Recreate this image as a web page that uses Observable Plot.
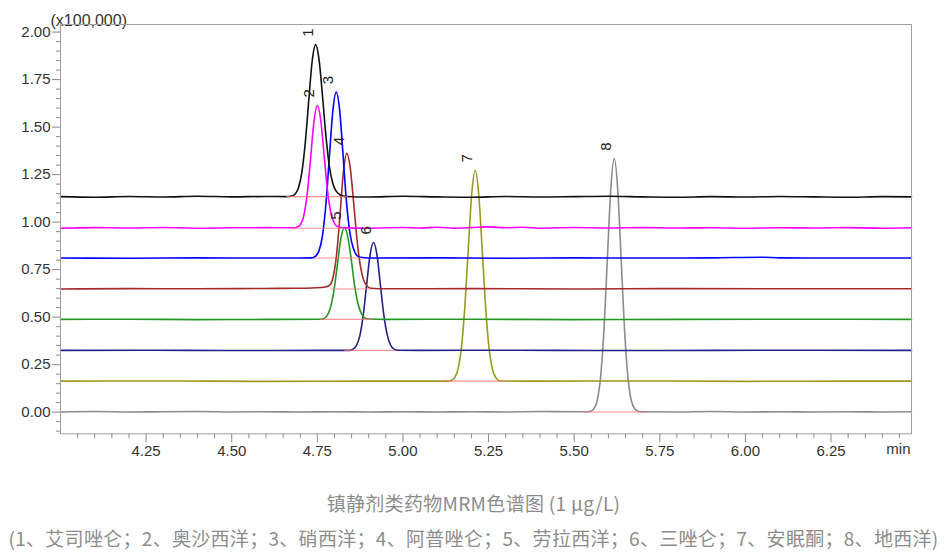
<!DOCTYPE html>
<html><head><meta charset="utf-8">
<script src="https://cdn.jsdelivr.net/npm/d3@7"></script>
<script src="https://cdn.jsdelivr.net/npm/@observablehq/plot@0.6"></script>
<style>
body{margin:0;background:#fff;width:947px;height:560px;position:relative;overflow:hidden;}
#chart{position:absolute;left:0;top:0;}
.cap{position:absolute;left:0;width:947px;text-align:center;font-family:"Noto Sans CJK SC","Noto Sans",sans-serif;color:#8c8c8c;font-size:19px;letter-spacing:0.3px;line-height:26px;white-space:nowrap;}
</style></head><body>
<div id="chart"></div>
<div class="cap" style="top:490px">镇静剂类药物MRM色谱图 (1 µg/L)</div>
<div class="cap" style="top:525px">(1、艾司唑仑；2、奥沙西洋；3、硝西洋；4、阿普唑仑；5、劳拉西洋；6、三唑仑；7、安眠酮；8、地西洋)</div>
<script>
// peak labels and trace colours
const peakIds = ["1","2","3","4","5","6","7","8"];
const peakColors = ["#111111","#ff00ff","#0000ff","#a52a2a","#229a22","#22228b","#9a9a1e","#8c8c8c"];

// tick values
const xMajorTicks = [4.25,4.50,4.75,5.00,5.25,5.50,5.75,6.00,6.25];
const yMajorTicks = [0,0.25,0.5,0.75,1.0,1.25,1.5,1.75,2.0];

// trace 1 (black)
const t1 = [4.00,4.10,4.20,4.30,4.40,4.50,4.60,4.66,4.675,4.685,4.695,4.705,4.715,4.725,4.735,4.745,4.755,4.765,4.775,4.785,4.795,4.805,4.815,4.825,4.835,4.90,5.00,5.10,5.20,5.30,5.40,5.50,5.60,5.70,5.80,5.90,6.00,6.10,6.20,6.30,6.40,6.485];
const v1 = [1.134,1.131,1.135,1.132,1.136,1.133,1.135,1.134,1.137,1.148,1.181,1.264,1.422,1.642,1.848,1.934,1.855,1.665,1.455,1.295,1.205,1.163,1.145,1.138,1.135,1.132,1.136,1.133,1.131,1.135,1.132,1.134,1.136,1.133,1.131,1.134,1.132,1.135,1.133,1.131,1.134,1.133];
// trace 2 (magenta)
const t2 = [4.00,4.10,4.20,4.30,4.40,4.50,4.60,4.68,4.69,4.70,4.71,4.72,4.73,4.74,4.75,4.76,4.77,4.78,4.79,4.80,4.81,4.82,4.90,5.00,5.05,5.10,5.15,5.20,5.25,5.30,5.35,5.40,5.50,5.60,5.70,5.80,5.90,6.00,6.10,6.20,6.30,6.40,6.485];
const v2 = [0.968,0.971,0.969,0.972,0.968,0.970,0.971,0.970,0.973,0.985,1.030,1.142,1.328,1.528,1.614,1.535,1.350,1.160,1.045,0.993,0.975,0.971,0.968,0.972,0.969,0.973,0.968,0.971,0.975,0.970,0.973,0.968,0.972,0.969,0.971,0.969,0.970,0.968,0.970,0.969,0.971,0.968,0.970];
// trace 3 (blue)
const t3 = [4.00,4.20,4.40,4.60,4.735,4.745,4.755,4.765,4.775,4.785,4.795,4.805,4.815,4.825,4.835,4.845,4.855,4.865,4.875,4.90,5.10,5.30,5.50,5.70,5.90,6.05,6.10,6.30,6.485];
const v3 = [0.811,0.810,0.812,0.811,0.812,0.821,0.850,0.929,1.094,1.340,1.581,1.684,1.592,1.356,1.108,0.945,0.862,0.826,0.815,0.811,0.812,0.810,0.812,0.811,0.812,0.815,0.812,0.811,0.811];
// trace 4 (brown)
const t4 = [4.00,4.20,4.40,4.60,4.70,4.76,4.776,4.786,4.796,4.806,4.816,4.826,4.836,4.846,4.856,4.866,4.876,4.886,4.896,4.906,4.95,5.20,5.50,5.80,6.10,6.485];
const v4 = [0.648,0.650,0.649,0.651,0.652,0.656,0.660,0.668,0.710,0.826,1.032,1.262,1.362,1.287,1.103,0.906,0.766,0.691,0.661,0.652,0.649,0.650,0.648,0.650,0.649,0.649];
// trace 5 (green)
const t5 = [4.00,4.20,4.40,4.60,4.759,4.769,4.779,4.789,4.799,4.809,4.819,4.829,4.839,4.849,4.859,4.869,4.879,4.889,4.899,4.95,5.20,5.50,5.80,6.10,6.485];
const v5 = [0.488,0.489,0.487,0.488,0.489,0.492,0.509,0.554,0.646,0.783,0.917,0.970,0.922,0.804,0.664,0.569,0.517,0.496,0.490,0.488,0.489,0.487,0.488,0.489,0.488];
// trace 6 (navy)
const t6 = [4.00,4.25,4.50,4.75,4.844,4.854,4.864,4.874,4.884,4.894,4.904,4.914,4.924,4.934,4.944,4.954,4.964,4.974,4.984,5.05,5.30,5.60,5.90,6.20,6.485];
const v6 = [0.325,0.326,0.324,0.325,0.325,0.331,0.350,0.401,0.510,0.671,0.829,0.893,0.829,0.672,0.513,0.408,0.352,0.332,0.326,0.325,0.326,0.324,0.325,0.326,0.325];
// trace 7 (olive)
const t7 = [4.00,4.30,4.60,4.90,5.131,5.141,5.151,5.161,5.171,5.181,5.191,5.201,5.211,5.221,5.231,5.241,5.251,5.261,5.271,5.281,5.291,5.40,5.70,6.00,6.30,6.485];
const v7 = [0.163,0.164,0.162,0.163,0.163,0.167,0.182,0.228,0.344,0.562,0.867,1.153,1.272,1.153,0.867,0.562,0.344,0.228,0.182,0.167,0.164,0.163,0.164,0.162,0.163,0.163];
// trace 8 (gray)
const t8 = [4.00,4.10,4.20,4.30,4.40,4.50,4.60,4.70,4.80,4.90,5.00,5.10,5.20,5.30,5.40,5.50,5.537,5.547,5.557,5.567,5.577,5.587,5.597,5.607,5.617,5.627,5.637,5.647,5.657,5.667,5.677,5.687,5.697,5.80,5.90,6.00,6.10,6.20,6.30,6.40,6.485];
const v8 = [0.001,0.003,0.001,0.002,0.003,0.001,0.002,0.001,0.002,0.001,0.002,0.001,0.002,0.001,0.003,0.002,0.002,0.005,0.017,0.060,0.182,0.435,0.810,1.177,1.334,1.177,0.810,0.435,0.182,0.060,0.017,0.005,0.002,0.001,0.003,0.001,0.002,0.001,0.002,0.001,0.002];

// integration baseline segments (start / end time)
const segStart = [4.66,4.67,4.74,4.79,4.76,4.83,5.12,5.53];
const segEnd   = [4.84,4.83,4.88,4.91,4.91,4.98,5.30,5.71];

const times = [t1,t2,t3,t4,t5,t6,t7,t8];
const vals = [v1,v2,v3,v4,v5,v6,v7,v8];

const traces = peakIds.map((id,i) => times[i].map((t,j) => ({id, t, v: vals[i][j]})));
const apexRows = traces.map(rows => d3.greatest(rows, d => d.v));
const segRows = peakIds.map((id,i) => ({id, start: segStart[i], end: segEnd[i], level: vals[i][0]}));

const yMinorTicks = d3.range(-0.10, 2.001, 0.05).map(d => +d.toFixed(2)).filter(d => !yMajorTicks.some(m => Math.abs(m-d) < 1e-6));
const xMinorTicks = d3.range(4.05, 6.48, 0.05).map(d => +d.toFixed(2)).filter(d => !xMajorTicks.some(m => Math.abs(m-d) < 1e-6));

const lineMarks = [];
for (let i = 7; i >= 0; i--) {
  lineMarks.push(Plot.line(traces[i], {x:"t", y:"v", stroke: peakColors[i], strokeWidth: 1.6, curve: "monotone-x"}));
}

const tickColor = "#8a8a8a";
const textColor = "#333";

const chart = Plot.plot({
  width: 947,
  height: 475,
  marginTop: 24,
  marginLeft: 60,
  marginRight: 36,
  marginBottom: 41.7,
  style: {fontFamily: "'Liberation Sans', Arial, sans-serif", fontSize: "15px", background: "#fff"},
  x: {domain: [4.0, 6.485]},
  y: {domain: [-0.114, 2.04]},
  marks: [
    Plot.axisY({ticks: yMinorTicks, tickSize: 4, tickFormat: () => "", color: tickColor}),
    Plot.axisY({ticks: yMajorTicks, tickSize: 8, tickFormat: () => "", color: tickColor}),
    Plot.axisY({ticks: yMajorTicks, tickSize: 0, tickPadding: 10, tickFormat: d3.format(".2f"), fontSize: 15, color: textColor, label: null}),
    Plot.axisX({ticks: xMinorTicks, tickSize: 5, tickFormat: () => "", color: tickColor}),
    Plot.axisX({ticks: xMajorTicks, tickSize: 9, tickFormat: () => "", color: tickColor}),
    Plot.axisX({ticks: xMajorTicks, tickSize: 0, tickPadding: 12, tickFormat: d3.format(".2f"), fontSize: 15, color: textColor, label: null}),
    ...lineMarks,
    Plot.ruleY(segRows, {y: "level", x1: "start", x2: "end", stroke: "#ff6e6e", strokeOpacity: 0.75, strokeWidth: 1.1}),
    Plot.text(apexRows, {x: "t", y: "v", text: "id", rotate: -90, textAnchor: "start", lineAnchor: "bottom", dx: -3, dy: -8, fontSize: 15, fill: "#222"}),
    Plot.text(["min"], {text: d => d, frameAnchor: "bottom-right", textAnchor: "end", dx: -1, dy: 20, fontSize: 15, fill: textColor}),
    Plot.text(["(x100,000)"], {text: d => d, frameAnchor: "top-left", textAnchor: "start", dx: -10, dy: -10, fontSize: 16, fill: textColor}),
    Plot.frame({stroke: "#a0a0a0"})
  ]
});
document.getElementById("chart").appendChild(chart);
</script>
</body></html>
